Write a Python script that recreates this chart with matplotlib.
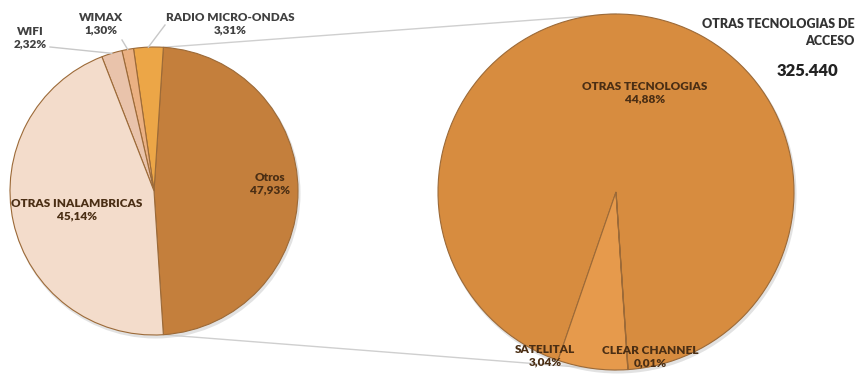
import numpy as np
import matplotlib.pyplot as plt

# data (percent of total)
main_labels = ["Otros", "RADIO MICRO-ONDAS", "WIMAX", "WIFI", "OTRAS INALAMBRICAS"]
main_values = [47.93, 3.31, 1.30, 2.32, 45.14]
main_colors = ["#c47f3c", "#eca647", "#eab082", "#e9c3ab", "#f3dccb"]

sub_labels = ["OTRAS TECNOLOGIAS", "SATELITAL", "CLEAR CHANNEL"]
sub_values = [44.88, 3.04, 0.01]
sub_colors = ["#d78c3f", "#e69a4c", "#d78c3f"]

title_lines = "OTRAS TECNOLOGIAS DE\nACCESO"
total_text = "325.440"

plt.rcParams['font.family'] = ['Lato', 'DejaVu Sans']

fig = plt.figure(figsize=(8.63, 3.74), dpi=100)
ax = fig.add_axes([0, 0, 1, 1])

# pie geometry (pixel-like coordinates, y up)
c1, r1 = (154, 183), 144
c2, r2 = (616, 182), 178

otros_deg = main_values[0] / sum(main_values) * 360
start1 = -otros_deg / 2
edge_kw = dict(edgecolor="#9c6a38", linewidth=0.8)

# soft shadow
for c, r in [(c1, r1), (c2, r2)]:
    ax.add_patch(plt.Circle((c[0] + 1.5, c[1] - 2.5), r + 1, color="#a0a0a0", alpha=0.3, lw=0, zorder=0))

ax.pie(main_values, colors=main_colors, startangle=start1, counterclock=True,
       center=c1, radius=r1, wedgeprops=edge_kw, frame=True)

start2 = -86.1
ax.pie(sub_values, colors=sub_colors, startangle=start2, counterclock=True,
       center=c2, radius=r2, wedgeprops=edge_kw, frame=True)

# connector lines from Otros edges to the second pie
a_top = np.deg2rad(otros_deg / 2)
p_top = (c1[0] + r1 * np.cos(a_top), c1[1] + r1 * np.sin(a_top))
p_bot = (c1[0] + r1 * np.cos(-a_top), c1[1] + r1 * np.sin(-a_top))
ax.plot([p_top[0], c2[0]], [p_top[1], c2[1] + r2], color="#cfcfcf", lw=1, zorder=0.5)
ax.plot([p_bot[0], c2[0]], [p_bot[1], c2[1] - r2], color="#cfcfcf", lw=1, zorder=0.5)

# leader lines for small slices
cum = np.cumsum([0] + main_values)
def mid_point(i):
    ang = np.deg2rad(start1 + (cum[i] + main_values[i] / 2) / sum(main_values) * 360)
    return c1[0] + r1 * np.cos(ang), c1[1] + r1 * np.sin(ang)

for i, (lx, ly) in zip([1, 2, 3], [(165, 349), (122, 334), (50, 327)]):
    mx, my = mid_point(i)
    ax.plot([lx, mx], [ly, my], color="#c8c8c8", lw=1, zorder=3)

def fmt(v):
    return f"{v:.2f}".replace(".", ",") + "%"

txt_kw = dict(ha="center", va="center", fontsize=8.5, fontweight="heavy", color="#404040", linespacing=1.15, zorder=5)
dark_kw = dict(txt_kw, color="#4a2e14")

ax.text(270, 190, f"{main_labels[0]}\n{fmt(main_values[0])}", **dark_kw)
ax.text(230, 350, f"{main_labels[1]}\n{fmt(main_values[1])}", **txt_kw)
ax.text(101, 350, f"{main_labels[2]}\n{fmt(main_values[2])}", **txt_kw)
ax.text(30, 336, f"{main_labels[3]}\n{fmt(main_values[3])}", **txt_kw)
ax.text(77, 164, f"{main_labels[4]}\n{fmt(main_values[4])}", **dark_kw)

ax.text(645, 281, f"{sub_labels[0]}\n{fmt(sub_values[0])}", **dark_kw)
ax.text(545, 18, f"{sub_labels[1]}\n{fmt(sub_values[1])}", **dark_kw)
ax.text(650, 17, f"{sub_labels[2]}\n{fmt(sub_values[2])}", **dark_kw)

ax.text(855, 342, title_lines, ha="right", va="center", fontsize=9, fontweight="heavy",
        color="#333333", linespacing=1.5)
ax.text(807, 303, total_text, ha="center", va="center", fontsize=12, fontweight="heavy", color="#222222")

ax.set_xlim(0, 863)
ax.set_ylim(0, 374)
ax.set_aspect("equal")
ax.axis("off")

fig.savefig("out.png", dpi=100, facecolor="white")
